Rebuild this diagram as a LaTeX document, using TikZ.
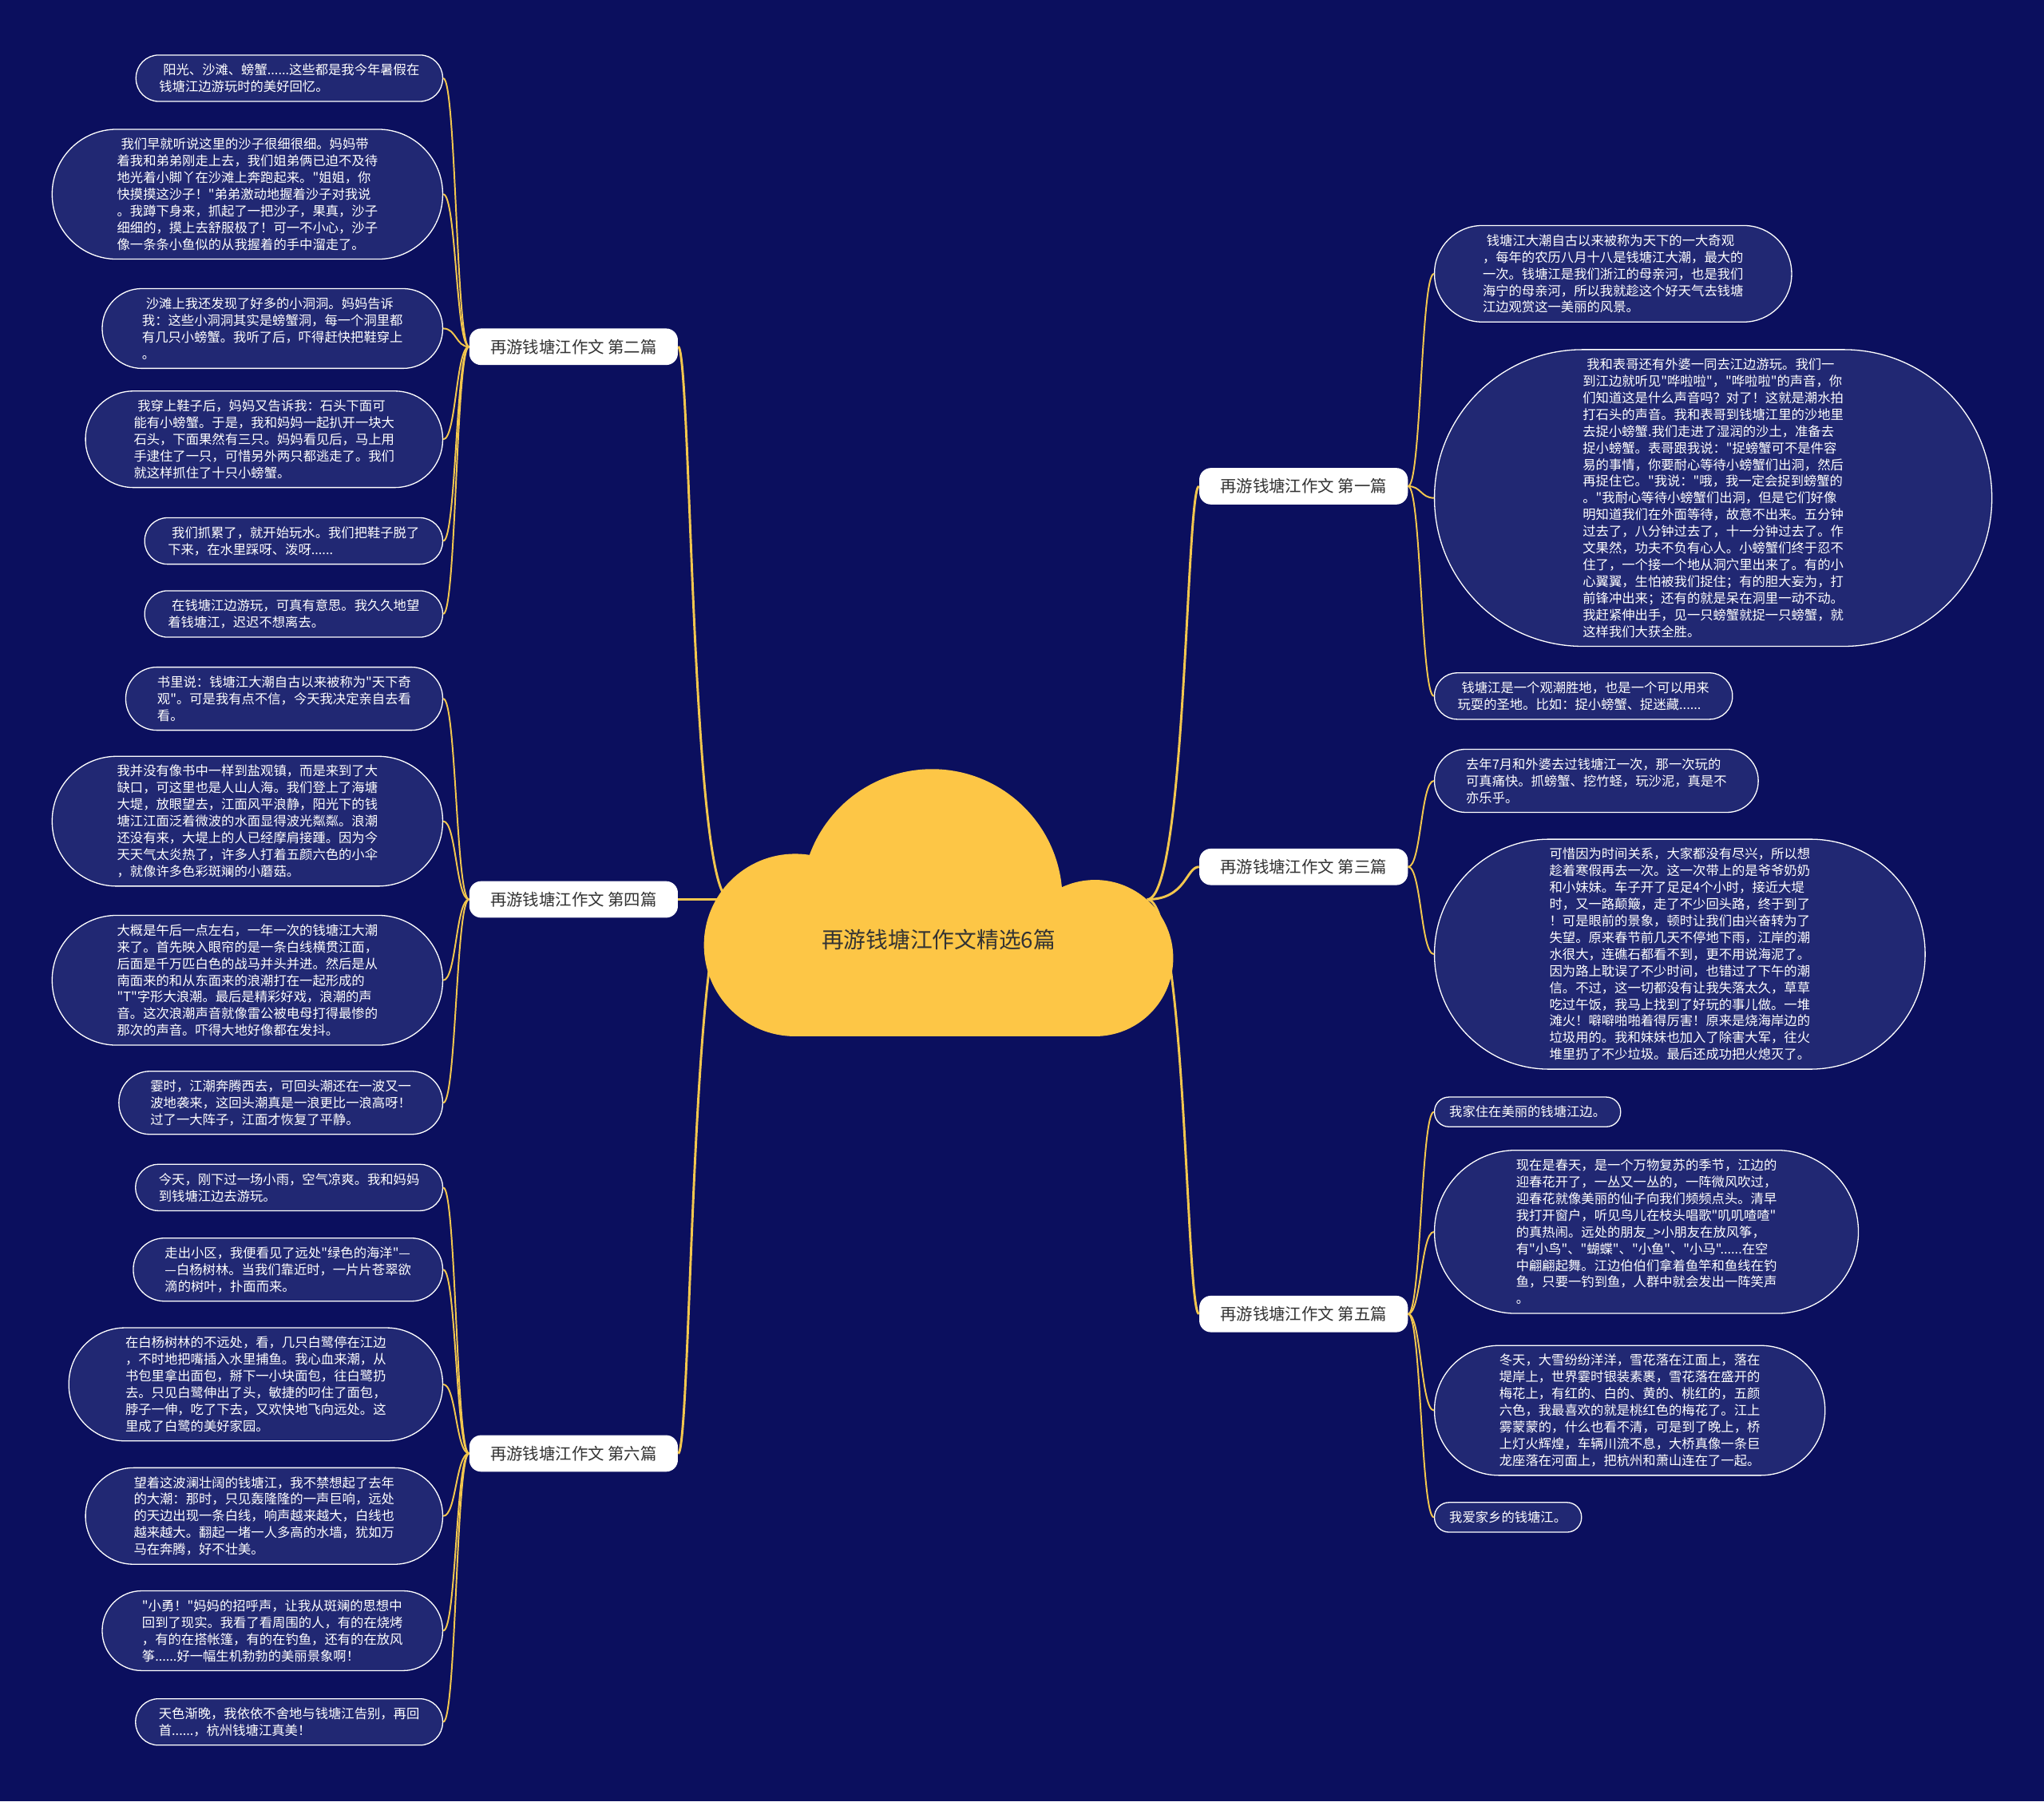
\documentclass[tikz,border=0pt]{standalone}
\usepackage{fontspec}
\newfontfamily\cjk{Noto Sans CJK SC}
\usepackage{xcolor}
\definecolor{bgnavy}{RGB}{11,15,94}
\definecolor{leafblue}{RGB}{33,40,115}
\definecolor{linegold}{RGB}{243,199,78}
\definecolor{cloudgold}{RGB}{253,198,70}
\definecolor{labelgray}{RGB}{51,51,51}

% leaf=<number of text lines>: a stadium box
\tikzset{
  leaf/.style={rectangle, draw=white, line width=0.8pt, fill=leafblue, text=white,
    minimum height=12.8*#1+10, rounded corners=6.4*#1+4.7,
    inner xsep=6.4*#1+5, inner ysep=3pt, align=left,
    font=\cjk\fontsize{10}{12.8}\selectfont},
  leafL/.style={leaf=#1, anchor=east},
  leafR/.style={leaf=#1, anchor=west},
  branch/.style={rectangle, rounded corners=9pt, fill=white, text=labelgray,
    minimum width=160pt, minimum height=28pt, inner sep=0pt,
    font=\cjk\fontsize{12.5}{14}\selectfont},
  link/.style={draw=linegold, line width=1.2pt},
  mainlink/.style={draw=linegold, line width=1.8pt},
}

\begin{document}
\begin{tikzpicture}[x=1pt, y=-1pt]
  % Background
  \fill[bgnavy] (0,0) rectangle (1568,1382);
  \useasboundingbox (0,0) rectangle (1568,1382);

  % Hub points on the cloud
  \coordinate (hubL) at (560,690);
  \coordinate (hubR) at (880,690);

  % --- Branch labels ---
  \node[branch] (b2) at (440,266)  {再游钱塘江作文 第二篇};
  \node[branch] (b4) at (440,690)  {再游钱塘江作文 第四篇};
  \node[branch] (b6) at (440,1115) {再游钱塘江作文 第六篇};
  \node[branch] (b1) at (1000,373) {再游钱塘江作文 第一篇};
  \node[branch] (b3) at (1000,665) {再游钱塘江作文 第三篇};
  \node[branch] (b5) at (1000,1008) {再游钱塘江作文 第五篇};

  % --- Left: 第二篇 ---
  \node[leafL=2] (l2a) at (340,60) {\hspace*{3pt}阳光、沙滩、螃蟹......这些都是我今年暑假在\\钱塘江边游玩时的美好回忆。};
  \node[leafL=7] (l2b) at (340,149) {\hspace*{3pt}我们早就听说这里的沙子很细很细。妈妈带\\
    着我和弟弟刚走上去，我们姐弟俩已迫不及待\\
    地光着小脚丫在沙滩上奔跑起来。"姐姐，你\\
    快摸摸这沙子！"弟弟激动地握着沙子对我说\\
    。我蹲下身来，抓起了一把沙子，果真，沙子\\
    细细的，摸上去舒服极了！可一不小心，沙子\\
    像一条条小鱼似的从我握着的手中溜走了。};
  \node[leafL=4] (l2c) at (340,252) {\hspace*{3pt}沙滩上我还发现了好多的小洞洞。妈妈告诉\\
    我：这些小洞洞其实是螃蟹洞，每一个洞里都\\
    有几只小螃蟹。我听了后，吓得赶快把鞋穿上\\
    。};
  \node[leafL=5] (l2d) at (340,337) {\hspace*{3pt}我穿上鞋子后，妈妈又告诉我：石头下面可\\
    能有小螃蟹。于是，我和妈妈一起扒开一块大\\
    石头，下面果然有三只。妈妈看见后，马上用\\
    手逮住了一只，可惜另外两只都逃走了。我们\\
    就这样抓住了十只小螃蟹。};
  \node[leafL=2] (l2e) at (340,415) {\hspace*{3pt}我们抓累了，就开始玩水。我们把鞋子脱了\\
    下来，在水里踩呀、泼呀......};
  \node[leafL=2] (l2f) at (340,471) {\hspace*{3pt}在钱塘江边游玩，可真有意思。我久久地望\\
    着钱塘江，迟迟不想离去。};

  % --- Left: 第四篇 ---
  \node[leafL=3] (l4a) at (340,536) {书里说：钱塘江大潮自古以来被称为"天下奇\\
    观"。可是我有点不信，今天我决定亲自去看\\
    看。};
  \node[leafL=7] (l4b) at (340,630) {我并没有像书中一样到盐观镇，而是来到了大\\
    缺口，可这里也是人山人海。我们登上了海塘\\
    大堤，放眼望去，江面风平浪静，阳光下的钱\\
    塘江江面泛着微波的水面显得波光粼粼。浪潮\\
    还没有来，大堤上的人已经摩肩接踵。因为今\\
    天天气太炎热了，许多人打着五颜六色的小伞\\
    ，就像许多色彩斑斓的小蘑菇。};
  \node[leafL=7] (l4c) at (340,752) {大概是午后一点左右，一年一次的钱塘江大潮\\
    来了。首先映入眼帘的是一条白线横贯江面，\\
    后面是千万匹白色的战马并头并进。然后是从\\
    南面来的和从东面来的浪潮打在一起形成的\\
    "T"字形大浪潮。最后是精彩好戏，浪潮的声\\
    音。这次浪潮声音就像雷公被电母打得最惨的\\
    那次的声音。吓得大地好像都在发抖。};
  \node[leafL=3] (l4d) at (340,846) {霎时，江潮奔腾西去，可回头潮还在一波又一\\
    波地袭来，这回头潮真是一浪更比一浪高呀！\\
    过了一大阵子，江面才恢复了平静。};

  % --- Left: 第六篇 ---
  \node[leafL=2] (l6a) at (340,911) {今天，刚下过一场小雨，空气凉爽。我和妈妈\\
    到钱塘江边去游玩。};
  \node[leafL=3] (l6b) at (340,974) {走出小区，我便看见了远处"绿色的海洋"—\\
    —白杨树林。当我们靠近时，一片片苍翠欲\\
    滴的树叶，扑面而来。};
  \node[leafL=6] (l6c) at (340,1062) {在白杨树林的不远处，看，几只白鹭停在江边\\
    ，不时地把嘴插入水里捕鱼。我心血来潮，从\\
    书包里拿出面包，掰下一小块面包，往白鹭扔\\
    去。只见白鹭伸出了头，敏捷的叼住了面包，\\
    脖子一伸，吃了下去，又欢快地飞向远处。这\\
    里成了白鹭的美好家园。};
  \node[leafL=5] (l6d) at (340,1163) {望着这波澜壮阔的钱塘江，我不禁想起了去年\\
    的大潮：那时，只见轰隆隆的一声巨响，远处\\
    的天边出现一条白线，响声越来越大，白线也\\
    越来越大。翻起一堵一人多高的水墙，犹如万\\
    马在奔腾，好不壮美。};
  \node[leafL=4] (l6e) at (340,1251) {"小勇！"妈妈的招呼声，让我从斑斓的思想中\\
    回到了现实。我看了看周围的人，有的在烧烤\\
    ，有的在搭帐篷，有的在钓鱼，还有的在放风\\
    筝......好一幅生机勃勃的美丽景象啊！};
  \node[leafL=2] (l6f) at (340,1321) {天色渐晚，我依依不舍地与钱塘江告别，再回\\
    首......，杭州钱塘江真美！};

  % --- Right: 第一篇 ---
  \node[leafR=5] (r1a) at (1100,210) {\hspace*{3pt}钱塘江大潮自古以来被称为天下的一大奇观\\
    ，每年的农历八月十八是钱塘江大潮，最大的\\
    一次。钱塘江是我们浙江的母亲河，也是我们\\
    海宁的母亲河，所以我就趁这个好天气去钱塘\\
    江边观赏这一美丽的风景。};
  \node[leafR=17] (r1b) at (1100,382) {\hspace*{3pt}我和表哥还有外婆一同去江边游玩。我们一\\
    到江边就听见"哗啦啦"，"哗啦啦"的声音，你\\
    们知道这是什么声音吗？对了！这就是潮水拍\\
    打石头的声音。我和表哥到钱塘江里的沙地里\\
    去捉小螃蟹.我们走进了湿润的沙土，准备去\\
    捉小螃蟹。表哥跟我说："捉螃蟹可不是件容\\
    易的事情，你要耐心等待小螃蟹们出洞，然后\\
    再捉住它。"我说："哦，我一定会捉到螃蟹的\\
    。"我耐心等待小螃蟹们出洞，但是它们好像\\
    明知道我们在外面等待，故意不出来。五分钟\\
    过去了，八分钟过去了，十一分钟过去了。作\\
    文果然，功夫不负有心人。小螃蟹们终于忍不\\
    住了，一个接一个地从洞穴里出来了。有的小\\
    心翼翼，生怕被我们捉住；有的胆大妄为，打\\
    前锋冲出来；还有的就是呆在洞里一动不动。\\
    我赶紧伸出手，见一只螃蟹就捉一只螃蟹，就\\
    这样我们大获全胜。};
  \node[leafR=2] (r1c) at (1100,534) {\hspace*{3pt}钱塘江是一个观潮胜地，也是一个可以用来\\
    玩耍的圣地。比如：捉小螃蟹、捉迷藏......};

  % --- Right: 第三篇 ---
  \node[leafR=3] (r3a) at (1100,599) {去年7月和外婆去过钱塘江一次，那一次玩的\\
    可真痛快。抓螃蟹、挖竹蛏，玩沙泥，真是不\\
    亦乐乎。};
  \node[leafR=13] (r3b) at (1100,732) {可惜因为时间关系，大家都没有尽兴，所以想\\
    趁着寒假再去一次。这一次带上的是爷爷奶奶\\
    和小妹妹。车子开了足足4个小时，接近大堤\\
    时，又一路颠簸，走了不少回头路，终于到了\\
    ！可是眼前的景象，顿时让我们由兴奋转为了\\
    失望。原来春节前几天不停地下雨，江岸的潮\\
    水很大，连礁石都看不到，更不用说海泥了。\\
    因为路上耽误了不少时间，也错过了下午的潮\\
    信。不过，这一切都没有让我失落太久，草草\\
    吃过午饭，我马上找到了好玩的事儿做。一堆\\
    滩火！噼噼啪啪着得厉害！原来是烧海岸边的\\
    垃圾用的。我和妹妹也加入了除害大军，往火\\
    堆里扔了不少垃圾。最后还成功把火熄灭了。};

  % --- Right: 第五篇 ---
  \node[leafR=1] (r5a) at (1100,853) {我家住在美丽的钱塘江边。};
  \node[leafR=9] (r5b) at (1100,945) {现在是春天，是一个万物复苏的季节，江边的\\
    迎春花开了，一丛又一丛的，一阵微风吹过，\\
    迎春花就像美丽的仙子向我们频频点头。清早\\
    我打开窗户，听见鸟儿在枝头唱歌"叽叽喳喳"\\
    的真热闹。远处的朋友\_>小朋友在放风筝，\\
    有"小鸟"、"蝴蝶"、"小鱼"、"小马"......在空\\
    中翩翩起舞。江边伯伯们拿着鱼竿和鱼线在钓\\
    鱼，只要一钓到鱼，人群中就会发出一阵笑声\\
    。};
  \node[leafR=7] (r5c) at (1100,1082) {冬天，大雪纷纷洋洋，雪花落在江面上，落在\\
    堤岸上，世界霎时银装素裹，雪花落在盛开的\\
    梅花上，有红的、白的、黄的、桃红的，五颜\\
    六色，我最喜欢的就是桃红色的梅花了。江上\\
    雾蒙蒙的，什么也看不清，可是到了晚上，桥\\
    上灯火辉煌，车辆川流不息，大桥真像一条巨\\
    龙座落在河面上，把杭州和萧山连在了一起。};
  \node[leafR=1] (r5d) at (1100,1164) {我爱家乡的钱塘江。};

  % --- Connectors: leaves ---
  \foreach \b/\leaves in {b2/{l2a,l2b,l2c,l2d,l2e,l2f}, b4/{l4a,l4b,l4c,l4d},
                         b6/{l6a,l6b,l6c,l6d,l6e,l6f}}
    \foreach \l in \leaves
      \draw[link] (\b.west) .. controls +(-10,0) and +(10,0) .. (\l.east);
  \foreach \b/\leaves in {b1/{r1a,r1b,r1c}, b3/{r3a,r3b}, b5/{r5a,r5b,r5c,r5d}}
    \foreach \l in \leaves
      \draw[link] (\b.east) .. controls +(10,0) and +(-10,0) .. (\l.west);

  % --- Connectors: hub to branches ---
  \foreach \b in {b2,b4,b6}
    \draw[mainlink] (hubL) .. controls +(-30,0) and +(10,0) .. (\b.east);
  \foreach \b in {b1,b3,b5}
    \draw[mainlink] (hubR) .. controls +(30,0) and +(-10,0) .. (\b.west);

  % --- Centre cloud ---
  \fill[cloudgold] (715,690) circle (100pt);
  \fill[cloudgold] (610,725) circle (70pt);
  \fill[cloudgold] (840,735) circle (60pt);
  \fill[cloudgold] (610,690) rectangle (840,795);
  \node[font=\cjk\fontsize{17}{20}\selectfont, text=labelgray] (title) at (720,721) {再游钱塘江作文精选6篇};
\end{tikzpicture}
\end{document}
